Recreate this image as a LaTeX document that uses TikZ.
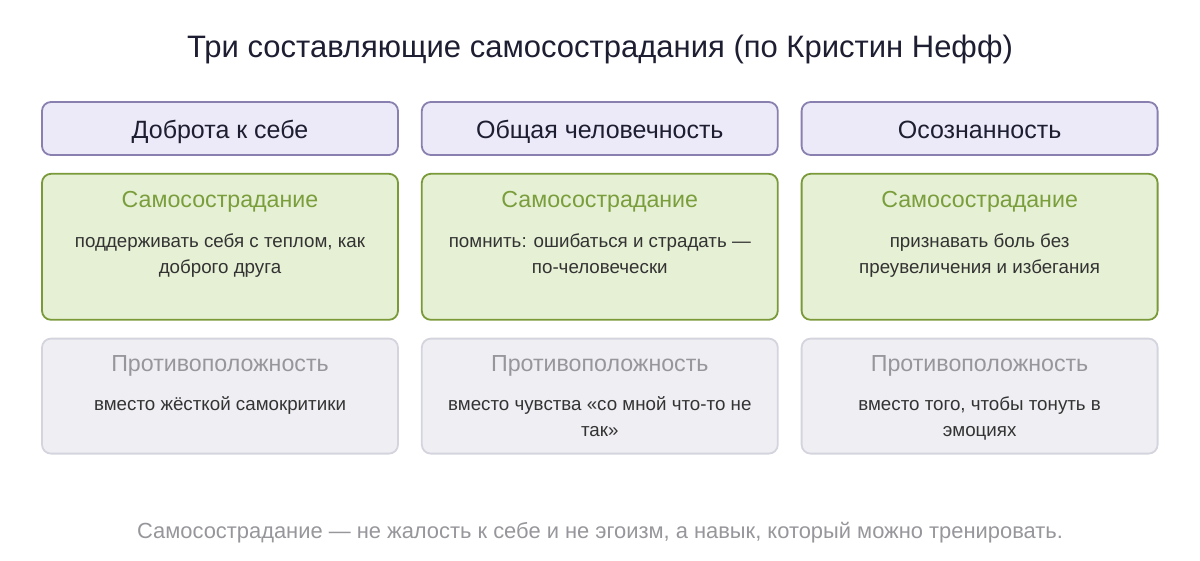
\documentclass[tikz,border=0pt]{standalone}
\usepackage{fontspec}
\setmainfont{Liberation Sans}
\usepackage{xcolor}
\usepackage{tikz}
\usetikzlibrary{positioning}
\definecolor{titlecolor}{RGB}{30, 30, 50}
\definecolor{headfill}{RGB}{236, 234, 248}
\definecolor{headline}{RGB}{138, 128, 176}
\definecolor{selffill}{RGB}{230, 240, 212}
\definecolor{selfline}{RGB}{122, 154, 58}
\definecolor{selftext}{RGB}{122, 158, 60}
\definecolor{oppfill}{RGB}{238, 238, 243}
\definecolor{oppline}{RGB}{212, 212, 222}
\definecolor{opptext}{RGB}{150, 150, 155}
\definecolor{bodytext}{RGB}{51, 51, 51}
% body lines, baseline on the first line
\newcommand{\bodylines}[1]{\begin{tabular}[t]{@{}c@{}}#1\end{tabular}}

\begin{document}
\begin{tikzpicture}[
    x=1pt, y=-1pt,
    box/.style={minimum width=356pt, rounded corners=9pt, line width=1.8pt, inner sep=0pt},
    headbox/.style={box, draw=headline, fill=headfill, minimum height=53pt,
        font=\fontsize{25}{28}\selectfont, text=titlecolor,
        text height=23.5pt, text depth=3pt},
    selfbox/.style={box, draw=selfline, fill=selffill, minimum height=146pt},
    oppbox/.style={box, draw=oppline, fill=oppfill, minimum height=115pt},
    boxtitle/.style={font=\fontsize{23.2}{27}\selectfont, inner sep=0pt, anchor=base},
    body/.style={font=\fontsize{18.75}{26}\selectfont, text=bodytext,
        inner sep=0pt, anchor=base},
    node distance=17pt
]
    \useasboundingbox (0,0) rectangle (1200,560);

    % Title
    \node[font=\fontsize{31}{35}\selectfont, text=titlecolor, anchor=base] (title) at (600,57)
        {Три составляющие самосострадания (по Кристин Нефф)};

    % Header row
    \node[headbox] (kindHead) at (220,128.5) {Доброта к себе};
    \node[headbox, right=22pt of kindHead] (humanHead) {Общая человечность};
    \node[headbox, right=22pt of humanHead] (mindHead) {Осознанность};

    % Self-compassion row
    \node[selfbox, below=of kindHead] (kindSelf) {};
    \node[selfbox, below=of humanHead] (humanSelf) {};
    \node[selfbox, below=of mindHead] (mindSelf) {};

    % Opposite row
    \node[oppbox, below=of kindSelf] (kindOpp) {};
    \node[oppbox, below=of humanSelf] (humanOpp) {};
    \node[oppbox, below=of mindSelf] (mindOpp) {};

    % Texts in the green boxes
    \foreach \col/\txt in {kind/{поддерживать себя с теплом, как\\доброго друга},
        human/{помнить: ошибаться и страдать ---\\по-человечески},
        mind/{признавать боль без\\преувеличения и избегания}} {
        \node[boxtitle, text=selftext] (\col SelfTitle) at ([yshift=-35pt]\col Self.north) {Самосострадание};
        \node[body] (\col SelfBody) at ([yshift=-75pt]\col Self.north) {\bodylines{\txt}};
    }

    % Texts in the gray boxes
    \foreach \col/\txt in {kind/{вместо жёсткой самокритики},
        human/{вместо чувства «со мной что-то не\\так»},
        mind/{вместо того, чтобы тонуть в\\эмоциях}} {
        \node[boxtitle, text=opptext] (\col OppTitle) at ([yshift=-34pt]\col Opp.north) {Противоположность};
        \node[body] (\col OppBody) at ([yshift=-73pt]\col Opp.north) {\bodylines{\txt}};
    }

    % Footer
    \node[font=\fontsize{21.9}{26}\selectfont, text=opptext, anchor=base] (footer) at (600,538)
        {Самосострадание --- не жалость к себе и не эгоизм, а навык, который можно тренировать.};
\end{tikzpicture}
\end{document}
